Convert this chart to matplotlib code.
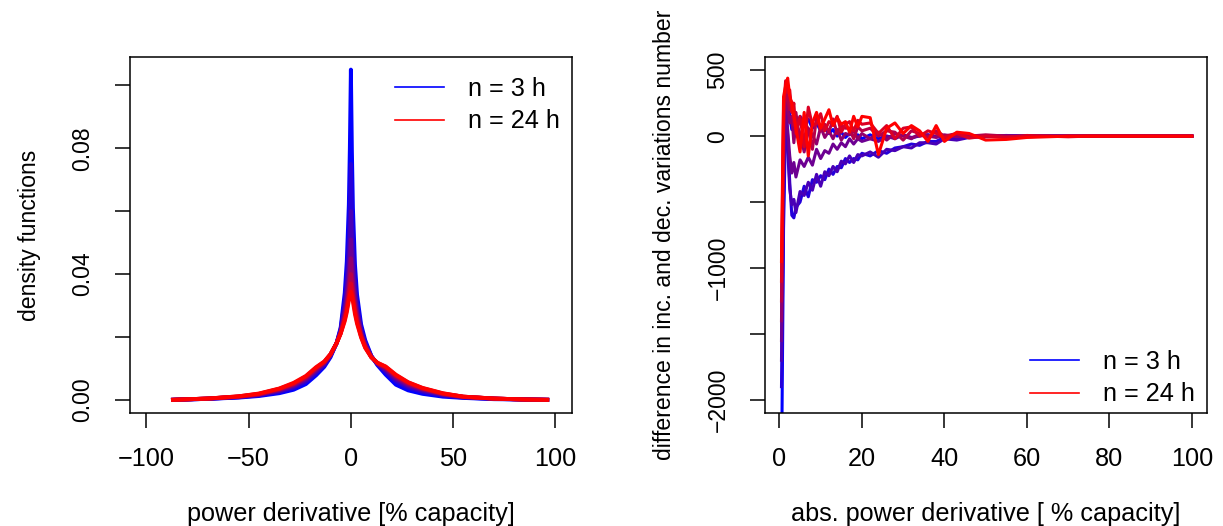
# density of power derivative and inc/dec difference for n = 3 ... 24 h
import numpy as np
import matplotlib.pyplot as plt

plt.rcParams['font.family'] = ['Liberation Sans', 'DejaVu Sans']

n_hours = [3, 6, 9, 12, 15, 18, 21, 24]

# left panel: density functions
deriv_x = [-87, -70, -55, -45, -35, -28, -22, -17, -13, -10, -7, -5, -3, -2, -1, -0.5,
           0, 0.5, 1, 2, 3, 5, 7, 10, 13, 17, 22, 28, 35, 45, 55, 70, 85, 96]

dens_n3 = [0.0000, 0.0003, 0.0007, 0.0012, 0.0021, 0.0032, 0.0050, 0.0078, 0.0105, 0.0135,
           0.0180, 0.0230, 0.0340, 0.0440, 0.0620, 0.0800, 0.1050, 0.0790, 0.0610, 0.0430,
           0.0335, 0.0240, 0.0190, 0.0140, 0.0110, 0.0080, 0.0048, 0.0030, 0.0019, 0.0010,
           0.0006, 0.0002, 0.0001, 0.0000]
dens_n6 = [0.0000, 0.0003, 0.0008, 0.0014, 0.0025, 0.0038, 0.0057, 0.0085, 0.0110, 0.0138,
           0.0180, 0.0225, 0.0315, 0.0390, 0.0510, 0.0620, 0.0750, 0.0610, 0.0505, 0.0385,
           0.0310, 0.0228, 0.0183, 0.0139, 0.0112, 0.0088, 0.0058, 0.0038, 0.0025, 0.0013,
           0.0007, 0.0003, 0.0001, 0.0000]
dens_n9 = [0.0000, 0.0003, 0.0009, 0.0015, 0.0028, 0.0042, 0.0062, 0.0090, 0.0113, 0.0140,
           0.0180, 0.0220, 0.0295, 0.0350, 0.0440, 0.0510, 0.0600, 0.0505, 0.0435, 0.0350,
           0.0290, 0.0220, 0.0178, 0.0138, 0.0114, 0.0093, 0.0064, 0.0043, 0.0029, 0.0015,
           0.0008, 0.0003, 0.0001, 0.0000]
dens_n12 = [0.0000, 0.0004, 0.0009, 0.0016, 0.0030, 0.0045, 0.0066, 0.0094, 0.0116, 0.0142,
            0.0180, 0.0217, 0.0280, 0.0325, 0.0395, 0.0445, 0.0510, 0.0440, 0.0390, 0.0325,
            0.0277, 0.0214, 0.0175, 0.0137, 0.0115, 0.0097, 0.0069, 0.0047, 0.0032, 0.0017,
            0.0009, 0.0004, 0.0001, 0.0000]
dens_n15 = [0.0000, 0.0004, 0.0010, 0.0017, 0.0032, 0.0048, 0.0069, 0.0097, 0.0118, 0.0143,
            0.0180, 0.0214, 0.0270, 0.0308, 0.0365, 0.0405, 0.0450, 0.0400, 0.0360, 0.0308,
            0.0267, 0.0209, 0.0172, 0.0136, 0.0116, 0.0100, 0.0073, 0.0050, 0.0034, 0.0018,
            0.0009, 0.0004, 0.0001, 0.0000]
dens_n18 = [0.0000, 0.0004, 0.0010, 0.0018, 0.0034, 0.0050, 0.0072, 0.0100, 0.0120, 0.0144,
            0.0180, 0.0212, 0.0262, 0.0295, 0.0345, 0.0373, 0.0400, 0.0370, 0.0340, 0.0292,
            0.0257, 0.0204, 0.0169, 0.0136, 0.0117, 0.0103, 0.0076, 0.0053, 0.0036, 0.0019,
            0.0010, 0.0004, 0.0001, 0.0000]
dens_n21 = [0.0000, 0.0004, 0.0011, 0.0019, 0.0035, 0.0052, 0.0074, 0.0102, 0.0121, 0.0145,
            0.0180, 0.0211, 0.0256, 0.0286, 0.0328, 0.0352, 0.0370, 0.0350, 0.0325, 0.0282,
            0.0249, 0.0201, 0.0167, 0.0135, 0.0117, 0.0105, 0.0078, 0.0055, 0.0037, 0.0020,
            0.0010, 0.0004, 0.0001, 0.0000]
dens_n24 = [0.0000, 0.0004, 0.0011, 0.0020, 0.0036, 0.0054, 0.0076, 0.0104, 0.0122, 0.0145,
            0.0180, 0.0210, 0.0250, 0.0278, 0.0315, 0.0333, 0.0344, 0.0332, 0.0312, 0.0272,
            0.0242, 0.0198, 0.0165, 0.0135, 0.0118, 0.0106, 0.0080, 0.0056, 0.0038, 0.0021,
            0.0010, 0.0004, 0.0001, 0.0000]

# right panel: difference between increasing and decreasing variations
abs_x = [0.5, 1, 1.5, 2, 2.5, 3, 3.5, 4, 5, 6, 7, 8, 9, 10, 11, 12, 13, 14, 15, 16, 17, 18,
         19, 20, 22, 24, 26, 28, 30, 32, 34, 36, 38, 40, 43, 46, 50, 55, 60, 65, 70, 75, 80,
         90, 100]

diff_n3 = [-2600, -700, 100, 300, 150, 50, 120, 30, 150, 100, 130, 60, 100, 40, 70, 20, 50,
           0, 30, -10, 20, 0, 10, -20, 10, -20, 0, -10, 10, -15, 5, 10, -5, 0, -10, 0, 0, 0,
           0, 0, 0, 0, 0, 0, 0]
diff_n6 = [-1900, -500, 250, 0, -350, -600, -620, -540, -500, -380, -460, -330, -350, -300,
           -330, -250, -290, -230, -240, -170, -200, -170, -180, -130, -150, -110, -130, -90,
           -80, -60, -70, -40, -40, -10, -20, -5, 0, 5, 0, 0, 0, 0, 0, 0, 0]
diff_n9 = [-1700, -400, 150, -100, -400, -520, -480, -580, -420, -450, -350, -410, -290, -380,
           -270, -300, -230, -270, -190, -210, -150, -200, -140, -150, -120, -160, -100, -110,
           -80, -90, -50, -50, -60, -20, -30, -10, -5, 0, 0, 0, 0, 0, 0, 0, 0]
diff_n12 = [-1550, -200, 200, 50, -150, -280, -200, -310, -180, -230, -160, -220, -100, -170,
            -110, -130, -60, -100, -50, -80, -20, -60, -20, -40, -20, -40, 0, -20, 10, -10, 0,
            10, -5, 0, 5, 0, 0, 0, 0, 0, 0, 0, 0, 0, 0]
diff_n15 = [-1400, 0, 300, 220, 100, 150, -50, 100, 20, -120, 60, 10, -60, 70, -10, 40, -20, 50,
            -30, 20, 10, 40, -20, 20, -20, 30, -30, 20, 0, -20, 20, 0, -10, 10, -5, 5, 0, 0,
            0, 0, 0, 0, 0, 0, 0]
diff_n18 = [-1250, 100, 350, 280, 200, 260, 80, 180, -60, 120, 50, -100, 140, 40, 90, 30, 130,
            20, 80, 60, 60, -20, 70, 40, 60, 0, 40, 30, -30, 40, 20, -10, 40, 0, 20, 0, 10, 0,
            -5, 0, 0, 0, 0, 0, 0]
diff_n21 = [-1100, 200, 420, 330, 350, 180, 250, 20, 150, -80, 220, 80, 100, 170, 40, 110, 90,
            150, 30, 90, 110, 40, 120, 90, 100, 20, 80, -20, 60, 70, 0, 40, 20, -10, 20, -15, 0,
            -10, 5, 0, -5, 0, 0, 0, 0]
diff_n24 = [-950, 300, 380, 440, 300, 250, 150, 60, -120, 180, -150, 100, 180, 60, 130, 200,
            80, 140, 90, 110, 30, 150, 70, 150, 140, -140, 60, 100, 20, 80, 40, -40, 80, -40,
            30, 20, -30, -25, -10, -5, 0, 0, 0, 0, 0]

dens_all = [dens_n3, dens_n6, dens_n9, dens_n12, dens_n15, dens_n18, dens_n21, dens_n24]
diff_all = [diff_n3, diff_n6, diff_n9, diff_n12, diff_n15, diff_n18, diff_n21, diff_n24]


def ramp(n):
    # blue -> red colour ramp over n = 3..24
    t = (n - 3) / 21
    return (t, 0.0, 1 - t)


fs_h = 18.2   # horizontal text
fs_v = 16.6   # vertical text
fig = plt.figure(figsize=(12.23, 5.26), dpi=100)
ax1 = fig.add_axes([0.1063, 0.2148, 0.3612, 0.6768])
ax2 = fig.add_axes([0.6255, 0.2148, 0.3612, 0.6768])

for n, d in zip(n_hours, dens_all):
    ax1.plot(deriv_x, d, color=ramp(n), lw=2.8, solid_joinstyle='round')
for n, d in zip(n_hours, diff_all):
    ax2.plot(abs_x, d, color=ramp(n), lw=2.2, solid_joinstyle='round')

ax1.set_xlim(-108, 108)
ax1.set_ylim(-0.0042, 0.109)
ax1.set_xticks([-100, -50, 0, 50, 100])
ax1.set_xticklabels(['\u2212100', '\u221250', '0', '50', '100'])
ax1.set_yticks([0, 0.02, 0.04, 0.06, 0.08, 0.10])
ax1.set_yticklabels(['0.00', '', '0.04', '', '0.08', ''], rotation=90, va='center')
ax1.set_xlabel('power derivative [% capacity]', fontsize=fs_h, labelpad=22)
ax1.set_ylabel('density functions', fontsize=fs_v, labelpad=22)

ax2.set_xlim(-3.5, 103.6)
ax2.set_ylim(-2100, 600)
ax2.set_xticks([0, 20, 40, 60, 80, 100])
ax2.set_yticks([500, 0, -500, -1000, -1500, -2000])
ax2.set_yticklabels(['500', '0', '', '\u22121000', '', '\u22122000'], rotation=90, va='center')
ax2.set_xlabel('abs. power derivative [ % capacity]', fontsize=fs_h, labelpad=22)
ax2.set_ylabel('difference in inc. and dec. variations number', fontsize=fs_v, labelpad=22)

for ax in (ax1, ax2):
    ax.tick_params(axis='x', labelsize=fs_h, length=10.5, width=1.1, pad=14)
    ax.tick_params(axis='y', labelsize=fs_v, length=10.5, width=1.1, pad=15)
    for s in ax.spines.values():
        s.set_linewidth(1.1)
    ax.plot([], [], color='blue', lw=1.2, label='n = 3 h')
    ax.plot([], [], color='red', lw=1.2, label='n = 24 h')

ax1.legend(loc='upper left', bbox_to_anchor=(0.6, 0.945), frameon=False, fontsize=fs_h,
           handlelength=1.95, handletextpad=0.95, labelspacing=0.35, borderpad=0, borderaxespad=0)
ax2.legend(loc='upper left', bbox_to_anchor=(0.6, 0.178), frameon=False, fontsize=fs_h,
           handlelength=1.95, handletextpad=0.95, labelspacing=0.35, borderpad=0, borderaxespad=0)

fig.savefig('out.png', dpi=100)
